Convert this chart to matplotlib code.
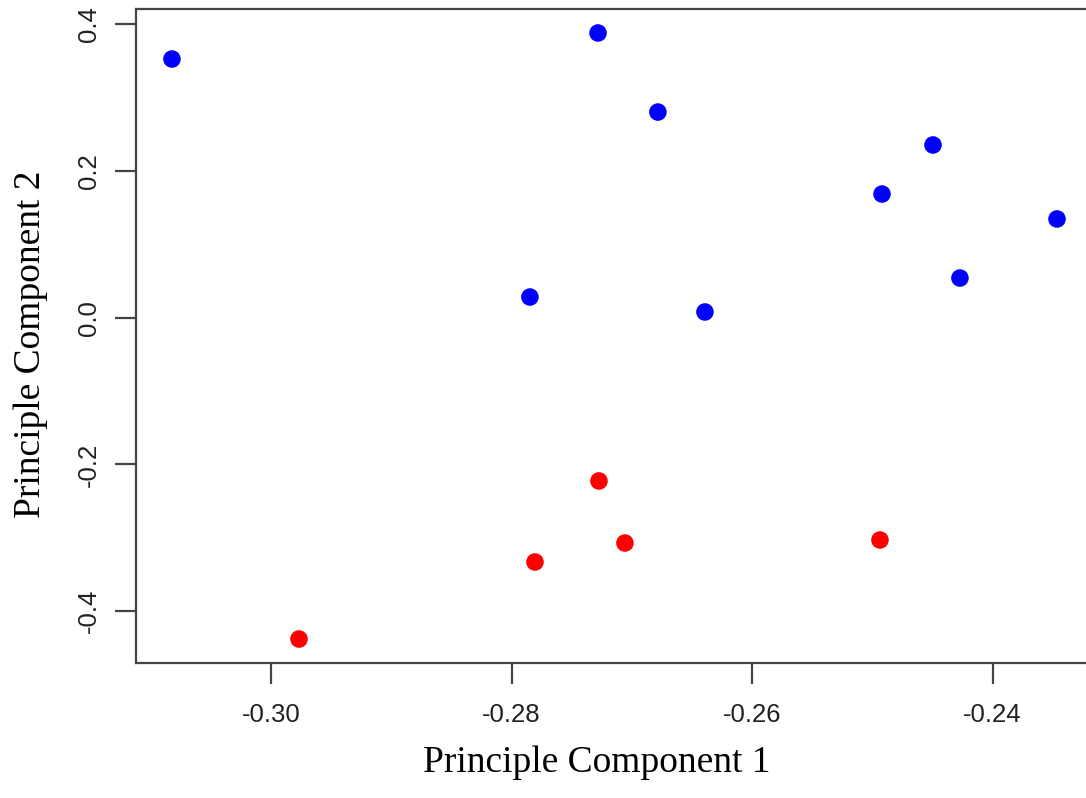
import matplotlib.pyplot as plt

# PCA scores, two groups
blue_pc1 = [-0.30823, -0.27281, -0.26783, -0.27847, -0.26392, -0.2492, -0.24496, -0.24272, -0.23465]
blue_pc2 = [0.3527, 0.3882, 0.2804, 0.0282, 0.0078, 0.1686, 0.2355, 0.0541, 0.1346]
red_pc1 = [-0.27273, -0.27057, -0.27805, -0.24937, -0.29767]
red_pc2 = [-0.2226, -0.3072, -0.3331, -0.3031, -0.4381]

xticks = [-0.30, -0.28, -0.26, -0.24]
yticks = [-0.4, -0.2, 0.0, 0.2, 0.4]

fig = plt.figure(figsize=(10.86, 7.98), dpi=100)
ax = fig.add_axes([136 / 1086, 1 - 663 / 798, 1 - 136 / 1086, (663 - 9) / 798])

ax.scatter(blue_pc1, blue_pc2, s=160, color='blue', edgecolors='none', zorder=3)
ax.scatter(red_pc1, red_pc2, s=160, color='red', edgecolors='none', zorder=3)

ax.set_xlim(-0.31122, -0.23224)
ax.set_ylim(-0.4708, 0.4209)

for side in ['left', 'bottom', 'top']:
    ax.spines[side].set_color('#444444')
    ax.spines[side].set_linewidth(1.6)
ax.spines['right'].set_visible(False)

ax.set_xticks(xticks)
ax.set_xticklabels(['%.2f' % v for v in xticks])
ax.set_yticks(yticks)
ax.set_yticklabels(['%.1f' % v for v in yticks], rotation=90, va='center')
ax.tick_params(length=15, width=1.6, color='#444444', labelsize=18.5,
               labelcolor='#222222')
ax.tick_params(axis='x', pad=14)
ax.tick_params(axis='y', pad=10)
for lab in ax.get_xticklabels() + ax.get_yticklabels():
    lab.set_family('Liberation Sans')

ax.set_xlabel('Principle Component 1', family='Liberation Serif', fontsize=27)
ax.set_ylabel('Principle Component 2', family='Liberation Serif', fontsize=27)
# the R plot region runs past the right edge, so labels sit a bit off-centre
ax.xaxis.set_label_coords(0.4845, -0.126)
ax.yaxis.set_label_coords(-0.093, 0.487)

fig.savefig('out.png', dpi=100)
